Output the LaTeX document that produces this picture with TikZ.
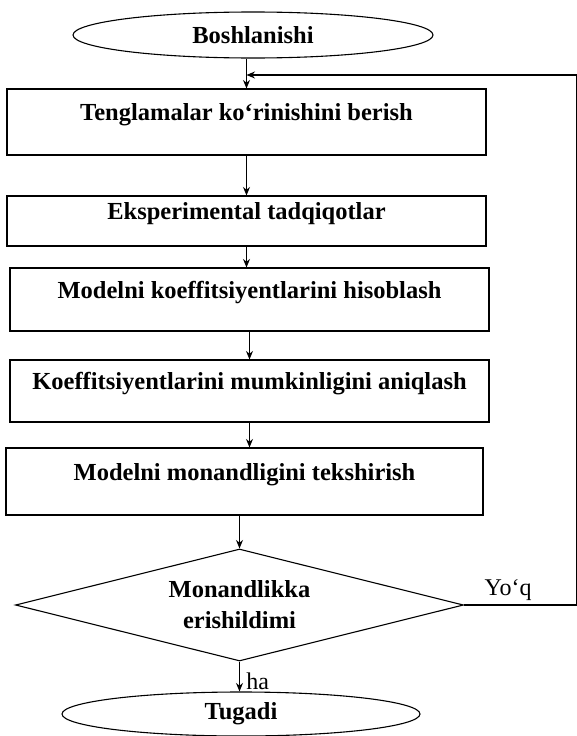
\documentclass[tikz,border=0pt]{standalone}
\usepackage{fontspec}
\setmainfont{Liberation Serif}
\usetikzlibrary{shapes.geometric,arrows.meta}
\begin{document}
\begin{tikzpicture}[x=1pt, y=-1pt, line width=1.1pt,
    box/.style={draw, rectangle, inner sep=0pt, minimum width=479pt,
        text height=18pt, text depth=21pt, font=\bfseries\fontsize{24.5}{26}\selectfont},
    term/.style={draw, ellipse, inner sep=0pt, font=\bfseries\fontsize{24.5}{26}\selectfont},
    decision/.style={draw, diamond, aspect=4, inner sep=0pt, align=center,
        font=\bfseries\fontsize{24.5}{31}\selectfont},
    lbl/.style={font=\fontsize{24}{26}\selectfont},
    arr/.style={-{Stealth[length=8.5pt,width=7pt]}}]
\useasboundingbox (0,0) rectangle (577,736);
\node[term, minimum width=360pt, minimum height=46pt] (start) at (253,35) {Boshlanishi};
\node[box, minimum height=66pt] (teng) at (246.5,122) {Tenglamalar ko‘rinishini berish};
\node[box, minimum height=50pt] (eksp) at (246.5,221) {Eksperimental tadqiqotlar};
\node[box, minimum height=63pt] (koef) at (249.5,299.5) {Modelni koeffitsiyentlarini hisoblash};
\node[box, minimum height=62pt] (mumk) at (249.5,391) {Koeffitsiyentlarini mumkinligini aniqlash};
\node[box, minimum height=67pt, minimum width=477pt] (mona) at (244.5,481.5) {Modelni monandligini tekshirish};
\node[decision, minimum width=448pt, minimum height=112pt] (dec) at (239.5,605) {Monandlikka\\erishildimi};
\node[term, minimum width=358pt, minimum height=44pt] (stop) at (241,714) {Tugadi};
% feedback corner
\coordinate (fb) at (577,75);
\draw[arr] (start.south -| teng.north) -- (teng.north);
\draw[arr] (teng) -- (eksp);
\draw[arr] (eksp.south) -- (eksp.south |- koef.north);
\draw[arr] (koef) -- (mumk);
\draw[arr] (mumk.south) -- (mumk.south |- mona.north);
\draw[arr] (mona.south -| dec.north) -- (dec.north);
\draw[arr] (dec.south) -- (dec.south |- stop.north) node[pos=0.65, right=3pt, lbl] {ha};
\draw[arr] (dec.east) -- (dec.east -| fb) node[pos=0.39, above=1pt, lbl] {Yo‘q}
    -- (fb) -- (fb -| teng.north);
\end{tikzpicture}
\end{document}
